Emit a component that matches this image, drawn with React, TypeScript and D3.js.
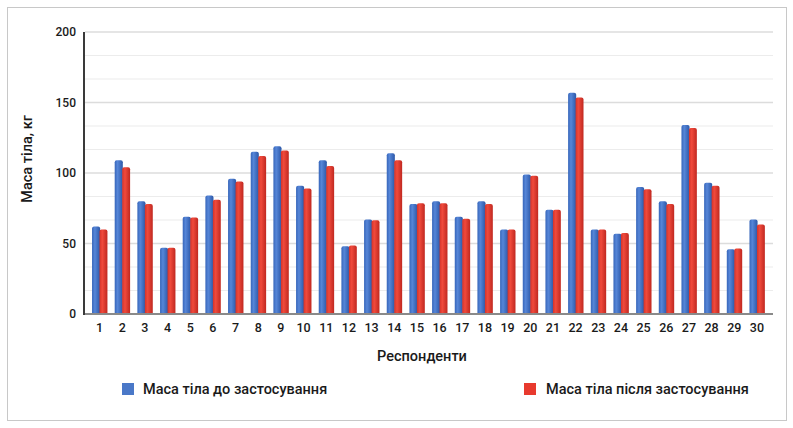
import React from "react";
import * as d3 from "d3";

const respondents = Array.from({ length: 30 }, (_, i) => String(i + 1));
const before = [62, 109, 80, 47, 69, 84, 96, 115, 119, 91, 109, 48, 67, 114, 78, 80, 69, 80, 60, 99, 74, 157, 60, 57, 90, 80, 134, 93, 46, 67];
const after = [60, 104, 78, 47, 68.5, 81, 94, 112, 116, 89, 105, 48.5, 66.5, 109, 78.5, 78.5, 67.5, 78, 60, 98, 74, 153.5, 60, 57.5, 88.5, 78, 132, 91, 46.5, 63.5];
const yTicks = [0, 50, 100, 150, 200];
const seriesNames = ["Маса тіла до застосування", "Маса тіла після застосування"];
const yTitle = "Маса тіла, кг";
const xTitle = "Респонденти";

const W = 793, H = 428;
const FONT = "Roboto, 'Noto Sans', sans-serif";

export default function App() {
  const x = d3.scaleBand<string>().domain(respondents).range([88.2, 768.3]).padding(0);
  const y = d3.scaleLinear().domain([0, 200]).range([314, 32]);
  const sub = d3.scaleBand<string>().domain(["b", "a"]).range([-7.5, 7.5]);
  const gridVals = d3.range(0, 200 + 0.01, 50 / 3);

  const barPath = (x0: number, w: number, v: number) => {
    const top = y(v), bot = y(0), r = 2;
    return `M${x0},${bot}V${top + r}Q${x0},${top} ${x0 + r},${top}H${x0 + w - r}Q${x0 + w},${top} ${x0 + w},${top + r}V${bot}Z`;
  };

  return (
    <svg width={W} height={H} style={{ position: "absolute", left: 0, top: 0, background: "#fff" }} fontFamily={FONT}>
      <defs>
        <linearGradient id="gb" x1="0" x2="1" y1="0" y2="0">
          <stop offset="0" stopColor="#3766ba" />
          <stop offset="0.35" stopColor="#5686d8" />
          <stop offset="1" stopColor="#2c58a8" />
        </linearGradient>
        <linearGradient id="gr" x1="0" x2="1" y1="0" y2="0">
          <stop offset="0" stopColor="#d4332a" />
          <stop offset="0.35" stopColor="#f04a3c" />
          <stop offset="1" stopColor="#c02820" />
        </linearGradient>
      </defs>
      <rect x={7.5} y={7.5} width={779} height={413} fill="#fff" stroke="#c8c8c8" strokeWidth={1} />
      {gridVals.map((g, i) => (
        <line key={i} x1={85} x2={773} y1={y(g)} y2={y(g)}
          stroke={i % 3 === 0 ? "#dcdcdc" : "#ececec"} strokeWidth={i % 3 === 0 ? 1.5 : 1.2} />
      ))}
      {respondents.map((r, i) => (
        <g key={r}>
          <path d={barPath(x(r)! + x.bandwidth() / 2 + sub("b")!, sub.bandwidth() + 0.6, before[i])} fill="url(#gb)" />
          <path d={barPath(x(r)! + x.bandwidth() / 2 + sub("a")!, sub.bandwidth() + 0.4, after[i])} fill="url(#gr)" />
        </g>
      ))}
      <line x1={84} x2={773} y1={y(0)} y2={y(0)} stroke="#8a8a8a" strokeWidth={2} />
      <line x1={84} x2={84} y1={y(200)} y2={y(0) + 1} stroke="#3a3a3a" strokeWidth={2} />
      {yTicks.map((t) => (
        <text key={t} x={76} y={y(t) + 4} textAnchor="end" fontSize={12} fontWeight={500} fill="#1a1a1a">{t}</text>
      ))}
      {respondents.map((r) => (
        <text key={r} x={x(r)! + x.bandwidth() / 2} y={332} textAnchor="middle" fontSize={12.5} fontWeight={500} fill="#1a1a1a">{r}</text>
      ))}
      <text x={422} y={361} textAnchor="middle" fontSize={14.5} fontWeight={500} fill="#1a1a1a">{xTitle}</text>
      <text transform={`translate(32,159) rotate(-90)`} textAnchor="middle" fontSize={14.5} fontWeight={500} fill="#1a1a1a">{yTitle}</text>
      <rect x={122} y={383} width={12} height={12} fill="#4a78c8" />
      <text x={143} y={394} fontSize={14.5} fontWeight={500} fill="#1a1a1a">{seriesNames[0]}</text>
      <rect x={524} y={383} width={12} height={12} fill="#e83a2e" />
      <text x={546} y={394} fontSize={14.5} fontWeight={500} fill="#1a1a1a">{seriesNames[1]}</text>
    </svg>
  );
}
